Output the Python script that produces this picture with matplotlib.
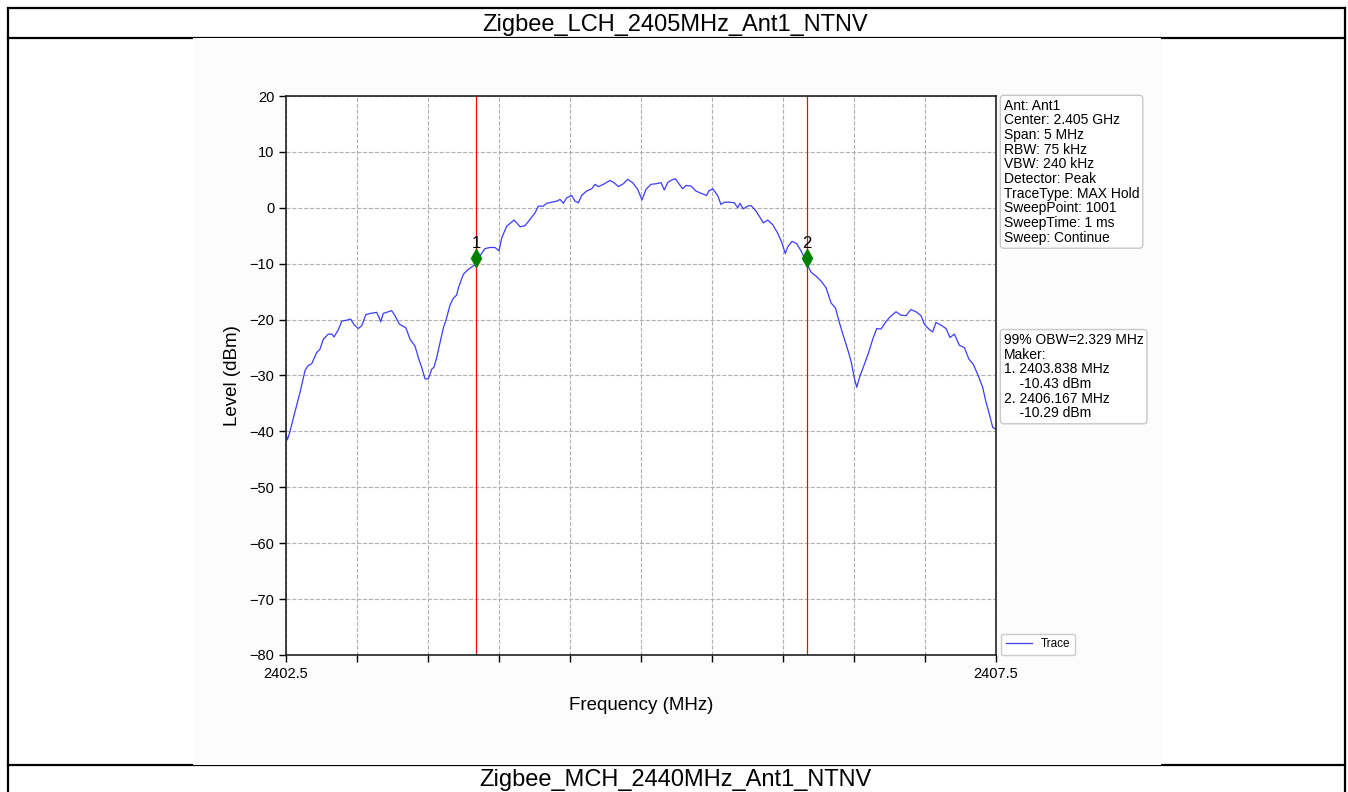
import matplotlib.pyplot as plt
from matplotlib.lines import Line2D
from matplotlib.patches import Rectangle

plt.rcParams['font.family'] = ['Liberation Sans', 'DejaVu Sans']

# trace (MHz, dBm)
freq = [2402.500, 2402.510, 2402.528, 2402.563, 2402.599, 2402.634, 2402.657, 2402.681,
        2402.716, 2402.739, 2402.763, 2402.798, 2402.822, 2402.838, 2402.869, 2402.892,
        2402.927, 2402.955, 2402.979, 2403.009, 2403.033, 2403.063, 2403.092, 2403.115,
        2403.138, 2403.150, 2403.167, 2403.185, 2403.221, 2403.244, 2403.268, 2403.298,
        2403.326, 2403.345, 2403.373, 2403.408, 2403.432, 2403.455, 2403.479, 2403.502,
        2403.526, 2403.542, 2403.561, 2403.585, 2403.608, 2403.631, 2403.655, 2403.678,
        2403.702, 2403.714, 2403.749, 2403.784, 2403.819, 2403.836, 2403.866, 2403.901,
        2403.937, 2403.972, 2404.000, 2404.019, 2404.054, 2404.082, 2404.106, 2404.129,
        2404.148, 2404.183, 2404.218, 2404.254, 2404.277, 2404.312, 2404.336, 2404.371,
        2404.408, 2404.430, 2404.453, 2404.477, 2404.512, 2404.535, 2404.559, 2404.582,
        2404.617, 2404.653, 2404.676, 2404.700, 2404.735, 2404.782, 2404.810, 2404.840,
        2404.876, 2404.906, 2404.941, 2404.977, 2405.007, 2405.035, 2405.070, 2405.106,
        2405.141, 2405.164, 2405.188, 2405.211, 2405.242, 2405.270, 2405.293, 2405.317,
        2405.352, 2405.387, 2405.423, 2405.462, 2405.477, 2405.505, 2405.540, 2405.563,
        2405.587, 2405.622, 2405.657, 2405.681, 2405.697, 2405.721, 2405.751, 2405.775,
        2405.810, 2405.833, 2405.862, 2405.892, 2405.927, 2405.962, 2405.993, 2406.016,
        2406.033, 2406.063, 2406.096, 2406.127, 2406.150, 2406.174, 2406.197, 2406.232,
        2406.268, 2406.303, 2406.338, 2406.369, 2406.397, 2406.425, 2406.455, 2406.479,
        2406.502, 2406.519, 2406.542, 2406.573, 2406.603, 2406.632, 2406.660, 2406.690,
        2406.721, 2406.754, 2406.796, 2406.831, 2406.866, 2406.901, 2406.937, 2406.972,
        2406.995, 2407.031, 2407.054, 2407.077, 2407.113, 2407.148, 2407.176, 2407.207,
        2407.242, 2407.277, 2407.308, 2407.340, 2407.371, 2407.406, 2407.430, 2407.453,
        2407.477, 2407.500]
level = [-40.5, -41.5, -40.0, -36.5, -33.0, -29.1, -28.2, -27.9,
         -25.9, -25.3, -23.5, -22.6, -22.6, -23.1, -21.8, -20.3,
         -20.1, -19.9, -20.9, -21.6, -21.1, -19.1, -18.9, -18.8,
         -18.7, -19.3, -20.4, -18.9, -18.6, -18.4, -19.3, -20.8,
         -21.2, -21.5, -23.5, -24.7, -26.8, -28.5, -30.6, -30.6,
         -28.9, -28.5, -26.8, -24.1, -21.5, -19.7, -17.4, -16.2,
         -15.6, -14.3, -11.9, -11.0, -10.4, -10.0, -8.6, -7.3,
         -7.1, -7.1, -7.7, -5.4, -3.3, -2.7, -2.2, -2.8,
         -3.4, -3.2, -2.1, -0.9, 0.3, 0.3, 0.8, 1.0,
         1.2, 1.5, 0.8, 1.8, 2.2, 1.2, 0.9, 2.2,
         3.0, 3.4, 4.2, 3.8, 4.2, 4.9, 4.5, 3.8,
         4.3, 5.1, 4.5, 3.3, 1.4, 3.3, 4.2, 4.3,
         4.5, 3.2, 4.5, 4.9, 5.2, 4.2, 3.4, 4.0,
         3.9, 3.0, 2.6, 2.2, 3.0, 3.4, 2.2, 0.6,
         1.0, 1.0, 0.9, 0.0, 0.8, -0.2, 0.3, 0.4,
         -0.6, -1.5, -2.7, -2.2, -3.0, -4.5, -6.3, -8.2,
         -7.0, -6.0, -6.4, -7.7, -8.9, -10.3, -11.5, -12.2,
         -13.1, -14.3, -17.0, -17.9, -20.5, -22.9, -25.3, -27.4,
         -30.4, -32.1, -30.1, -28.0, -25.9, -23.5, -21.6, -21.7,
         -20.5, -19.5, -18.6, -19.2, -19.3, -18.2, -18.6, -19.3,
         -20.8, -21.8, -22.2, -20.5, -21.0, -21.6, -23.2, -22.6,
         -24.6, -25.0, -27.0, -28.0, -29.8, -32.1, -34.8, -36.9,
         -39.3, -39.6]

marker_freq = [2403.838, 2406.167]
marker_level = [-10.43, -10.29]
marker_shown = [-9.0, -8.9]   # where the diamonds sit in the picture
marker_names = ['1', '2']

settings = ['Ant: Ant1', 'Center: 2.405 GHz', 'Span: 5 MHz', 'RBW: 75 kHz', 'VBW: 240 kHz',
            'Detector: Peak', 'TraceType: MAX Hold', 'SweepPoint: 1001', 'SweepTime: 1 ms',
            'Sweep: Continue']
obw = 2.329

title_top = 'Zigbee_LCH_2405MHz_Ant1_NTNV'
title_next = 'Zigbee_MCH_2440MHz_Ant1_NTNV'

W, H = 1348, 792
fig = plt.figure(figsize=(W / 100, H / 100), dpi=100)
fig.patch.set_facecolor('white')

def px(x, y):
    return x / W, 1 - y / H

# page table lines
for (x0, y0), (x1, y1) in [((7.5, 8), (1345, 8)), ((7.5, 8), (7.5, 792)), ((1345, 8), (1345, 792)),
                           ((7.5, 37.5), (1345, 37.5)), ((7.5, 765), (1345, 765))]:
    a, b = px(x0, y0)
    c, d = px(x1, y1)
    fig.add_artist(Line2D([a, c], [b, d], color='black', lw=1.6))

# the chart image area, lying over half of the table lines
a, b = px(193, 764.5)
fig.add_artist(Rectangle((a, b), (1161 - 193) / W, (764.5 - 38) / H, facecolor='#fcfcfc',
                         edgecolor='none', zorder=3))

fig.text(*px(675, 24.5), title_top, ha='center', va='center', fontsize=17)
fig.text(*px(675, 780), title_next, ha='center', va='center', fontsize=17)

ax = fig.add_axes([286 / W, 1 - 655 / H, 710 / W, 559 / H], zorder=4)
ax.set_facecolor('white')

ax.plot(freq, level, color='#3c3cff', lw=0.9, label='Trace')
for f, lv, name in zip(marker_freq, marker_shown, marker_names):
    ax.axvline(f, color='red', lw=0.9)
    ax.plot(f, lv, marker='d', color='green', markersize=9, linestyle='none')
    ax.annotate(name, (f, lv), xytext=(0, 5), textcoords='offset points', ha='center',
                va='bottom', fontsize=12)

ax.set_xlim(2402.5, 2407.5)
ax.set_ylim(-80, 20)
ax.set_xticks([2402.5 + 0.5 * i for i in range(11)])
ax.set_xticklabels(['2402.5'] + [''] * 9 + ['2407.5'])
ax.set_yticks(range(-80, 21, 10))
ax.tick_params(axis='both', labelsize=10.5, direction='out', length=5, width=1)
ax.grid(True, linestyle='--', color='#b0b0b0', lw=0.8)
for s in ax.spines.values():
    s.set_color('#222222')
    s.set_linewidth(1.2)

ax.set_xlabel('Frequency (MHz)', fontsize=13.5, labelpad=12)
ax.set_ylabel('Level (dBm)', fontsize=13.5, labelpad=6)

box = dict(boxstyle='round,pad=0.25', facecolor='white', edgecolor='#c8c8c8', lw=1)
ax.text(1.011, 0.995, '\n'.join(settings), transform=ax.transAxes, ha='left', va='top',
        fontsize=10, linespacing=1.06, bbox=box)

lines = [f'99% OBW={obw:.3f} MHz', 'Maker:']
for i in range(2):
    lines.append(f'{i + 1}. {marker_freq[i]:.3f} MHz')
    lines.append(f'    {marker_level[i]:.2f} dBm')
ax.text(1.011, (655 - 333) / 559, '\n'.join(lines), transform=ax.transAxes, ha='left', va='top',
        fontsize=10, linespacing=1.06, bbox=box)

ax.legend(loc='lower left', bbox_to_anchor=(1.007, 0.0), fontsize=8.5, handlelength=2.2,
          borderaxespad=0, framealpha=1)

fig.savefig('out.png', dpi=100)
